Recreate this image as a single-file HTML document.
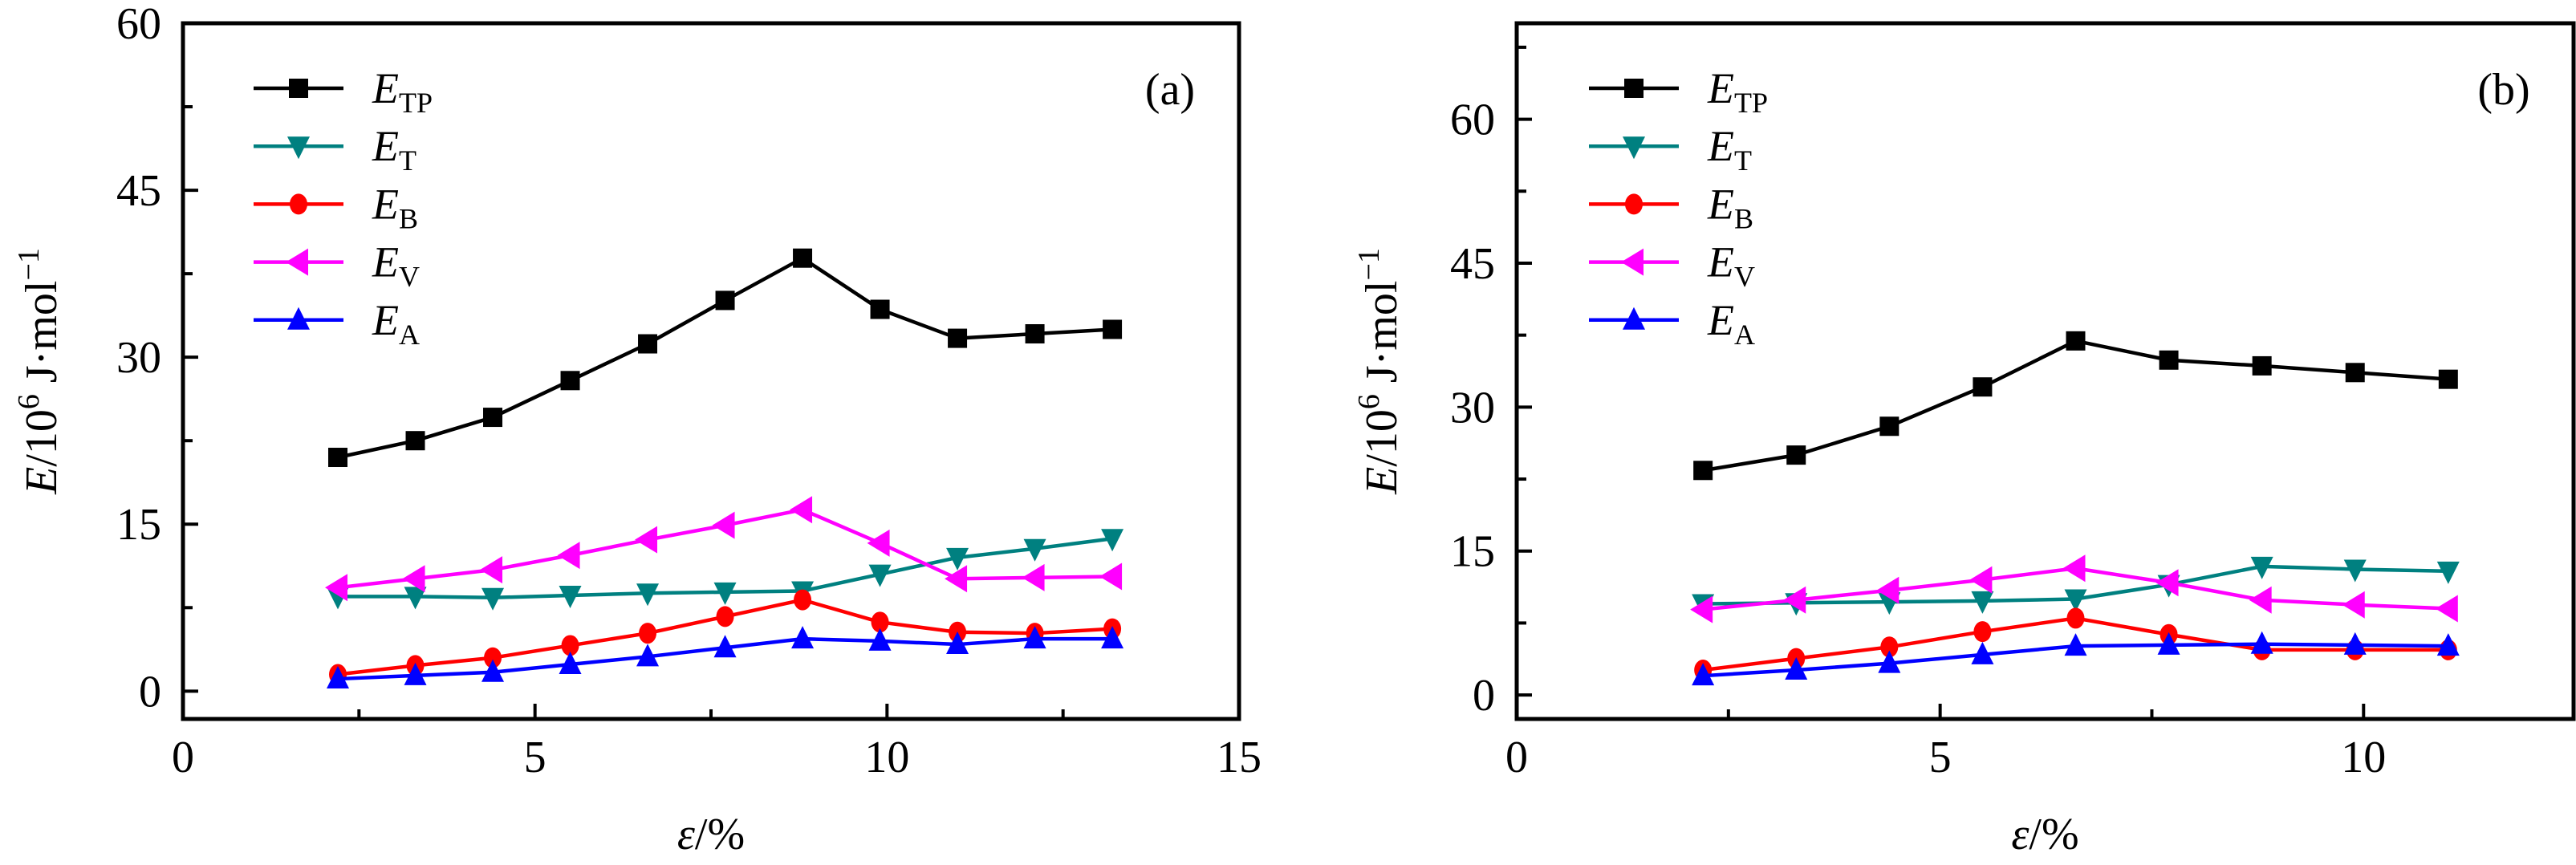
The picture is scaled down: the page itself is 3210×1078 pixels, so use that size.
<!DOCTYPE html>
<html><head><meta charset="utf-8">
<style>
html,body{margin:0;padding:0;background:#fff;}
svg{display:block;}
text{font-family:"Liberation Serif","DejaVu Serif",serif;fill:#000;}
</style></head>
<body>
<svg id="chart" width="3210" height="1078" viewBox="0 0 3210 1078" xmlns="http://www.w3.org/2000/svg"></svg>
<script>
const xA = [2.2,3.3,4.4,5.5,6.6,7.7,8.8,9.9,11.0,12.1,13.2];
const aTP = [21.0,22.5,24.6,27.9,31.2,35.1,38.9,34.3,31.7,32.1,32.5];
const aT  = [8.5,8.5,8.4,8.6,8.8,8.9,9.0,10.5,12.0,12.8,13.7];
const aB  = [1.5,2.3,3.0,4.1,5.2,6.7,8.2,6.2,5.3,5.2,5.6];
const aV  = [9.3,10.1,10.9,12.2,13.6,14.9,16.3,13.3,10.1,10.2,10.3];
const aA  = [1.1,1.4,1.7,2.4,3.1,3.9,4.7,4.5,4.2,4.7,4.7];
const xB = [2.2,3.3,4.4,5.5,6.6,7.7,8.8,9.9,11.0];
const bTP = [23.4,25.0,28.0,32.1,36.9,34.9,34.3,33.6,32.9];
const bT  = [9.5,9.6,9.7,9.8,10.0,11.5,13.4,13.1,12.9];
const bB  = [2.6,3.8,5.0,6.6,8.0,6.3,4.7,4.7,4.7];
const bV  = [8.9,9.9,10.9,12.0,13.2,11.7,9.9,9.4,9.0];
const bA  = [2.0,2.6,3.3,4.2,5.1,5.2,5.3,5.2,5.1];
const yTicksA = [0,15,30,45,60];
const yTicksB = [0,15,30,45,60];
const xTicksA = [0,5,10,15];
const xTicksB = [0,5,10];
const seriesNames = ['TP','T','B','V','A'];
const colors = ['#000000','#008080','#ff0000','#ff00ff','#0000ff'];
const markers = ['square','down','circle','left','up'];

const NS='http://www.w3.org/2000/svg';
const svg=document.getElementById('chart');
function mk(tag,attrs,parent){const e=document.createElementNS(NS,tag);for(const k in attrs)e.setAttribute(k,attrs[k]);(parent||svg).appendChild(e);return e;}

function marker(g,type,cx,cy,color){
  let e;
  if(type==='square'){e=mk('rect',{x:cx-12,y:cy-12,width:24,height:24,fill:color},g);}
  else if(type==='circle'){e=mk('ellipse',{cx:cx,cy:cy,rx:11,ry:13,fill:color},g);}
  else if(type==='down'){e=mk('polygon',{points:`${cx-14},${cy-12} ${cx+14},${cy-12} ${cx},${cy+16}`,fill:color},g);}
  else if(type==='up'){e=mk('polygon',{points:`${cx-14},${cy+12} ${cx+14},${cy+12} ${cx},${cy-16}`,fill:color},g);}
  else if(type==='left'){e=mk('polygon',{points:`${cx+12},${cy-17} ${cx+12},${cy+17} ${cx-16},${cy}`,fill:color},g);}
  
  
  return e;
}

function panel(cfg){
  const g=mk('g',{});
  
  
  const L=cfg.left,R=cfg.right,T=cfg.top,B=cfg.bottom;
  const sx=v=>L+(v-cfg.xmin)/(cfg.xmax-cfg.xmin)*(R-L);
  const sy=v=>B-(v-cfg.ymin)/(cfg.ymax-cfg.ymin)*(B-T);
  // ticks
  for(let v=0;v<=cfg.ymax+0.01;v+=7.5){
    const major=Math.abs(v/15-Math.round(v/15))<1e-6;
    const t=mk('line',{x1:L,x2:L+(major?19:12),y1:sy(v),y2:sy(v),stroke:'#000','stroke-width':4},g);
    
    
  }
  for(let v=2.5;v<cfg.xmax-0.01;v+=2.5){
    const major=Math.abs(v/5-Math.round(v/5))<1e-6;
    const t=mk('line',{x1:sx(v),x2:sx(v),y1:B,y2:B-(major?19:12),stroke:'#000','stroke-width':4},g);
    
    
  }
  cfg.yTicks.forEach(v=>{
    const t=mk('text',{x:L-27,y:sy(v)+19,'text-anchor':'end','font-size':56},g);
    t.textContent=v;
    
    
  });
  cfg.xTicks.forEach(v=>{
    const t=mk('text',{x:sx(v),y:962,'text-anchor':'middle','font-size':56},g);
    t.textContent=v;
    
    
  });
  // series
  cfg.series.forEach((ys,i)=>{
    const pts=cfg.xs.map((x,j)=>sx(x)+','+sy(ys[j])).join(' ');
    const pl=mk('polyline',{points:pts,fill:'none',stroke:colors[i],'stroke-width':4.5,'stroke-linejoin':'round'},g);
    
    
    cfg.xs.forEach((x,j)=>marker(g,markers[i],sx(x),sy(ys[j]),colors[i]));
  });
  // frame
  const fr=mk('rect',{x:L,y:T,width:R-L,height:B-T,fill:'none',stroke:'#000','stroke-width':5},g);
  
  
  // legend
  seriesNames.forEach((n,i)=>{
    const y=110+i*72.2;
    const lg=mk('g',{},g);
    
    
    mk('line',{x1:cfg.legX,x2:cfg.legX+112,y1:y,y2:y,stroke:colors[i],'stroke-width':4.5},lg);
    marker(lg,markers[i],cfg.legX+56,y,colors[i]);
    const t=mk('text',{x:cfg.legX+148,y:y+18,'font-size':54},lg);
    t.innerHTML='<tspan font-style="italic">E</tspan><tspan font-size="36" dy="12">'+n+'</tspan>';
  });
  const pl=mk('text',{x:cfg.lblX,y:130,'text-anchor':'middle','font-size':56},g);
  pl.textContent='('+cfg.id+')';
  
  
  // axis titles
  const xt=mk('text',{x:(L+R)/2,y:1058,'text-anchor':'middle','font-size':56},g);
  xt.innerHTML='<tspan font-style="italic">ε</tspan>/%';
  
  
  const cy=(T+B)/2;
  const yt=mk('text',{x:0,y:0,'text-anchor':'middle','font-size':56,transform:`translate(${cfg.ytX},${cy}) rotate(-90)`},g);
  yt.innerHTML='<tspan font-style="italic">E</tspan>/10<tspan font-size="38" dy="-22">6</tspan><tspan dy="22"> J·mol</tspan><tspan font-size="38" dy="-22">−1</tspan>';
  
  
}

panel({id:'a',left:228,right:1544,top:29,bottom:896,xmin:0,xmax:15,ymin:-2.5,ymax:60,
  xs:xA,series:[aTP,aT,aB,aV,aA],yTicks:yTicksA,xTicks:xTicksA,legX:316,lblX:1458,ytX:70});
panel({id:'b',left:1890,right:3207,top:29,bottom:896,xmin:0,xmax:12.48,ymin:-2.5,ymax:70,
  xs:xB,series:[bTP,bT,bB,bV,bA],yTicks:yTicksB,xTicks:xTicksB,legX:1980,lblX:3120,ytX:1740});
</script>
</body></html>
